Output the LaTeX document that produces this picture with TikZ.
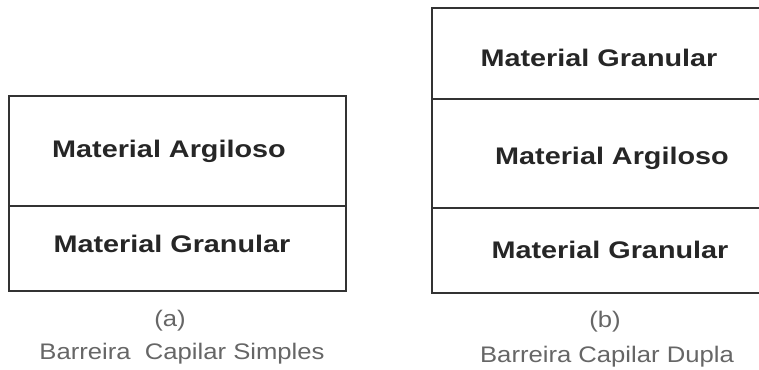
\documentclass[tikz,border=0pt]{standalone}
\usepackage{fontspec}
\setmainfont{Liberation Sans}
\newfontfamily\labfont[FakeStretch=1.2]{Liberation Sans Bold}
\newfontfamily\capfont[FakeStretch=1.14]{Liberation Sans}
\begin{document}
\begin{tikzpicture}[x=1pt,y=-1pt,
  layer/.style={draw=black!80,line width=1.3pt},
  lab/.style={font=\labfont\fontsize{24}{27}\selectfont,text=black!85,inner sep=0pt,anchor=center},
  captxt/.style={font=\capfont\fontsize{22.5}{26}\selectfont,text=black!60,inner sep=0pt,anchor=center}]
\useasboundingbox (0,0) rectangle (759,369);
% left box
\draw[layer] (9,96) rectangle (346,291);
\draw[layer] (9,206) -- (346,206);
\node[lab] (la) at (169,151) {Material Argiloso};
\node[lab] (lg) at (172,244) {Material Granular};
\node[captxt] (ca) at (170,321) {(a)};
\node[captxt] (cas) at (182,354) {Barreira \ Capilar Simples};
% right box
\draw[layer] (760,8) -- (432,8) -- (432,293) -- (760,293);
\draw[layer] (432,99) -- (760,99);
\draw[layer] (432,208) -- (760,208);
\node[lab] (rg1) at (599,58) {Material Granular};
\node[lab] (ra) at (612,158) {Material Argiloso};
\node[lab] (rg2) at (610,250) {Material Granular};
\node[captxt] (cb) at (605,322) {(b)};
\node[captxt] (cbs) at (607,357) {Barreira Capilar Dupla};
\end{tikzpicture}
\end{document}
